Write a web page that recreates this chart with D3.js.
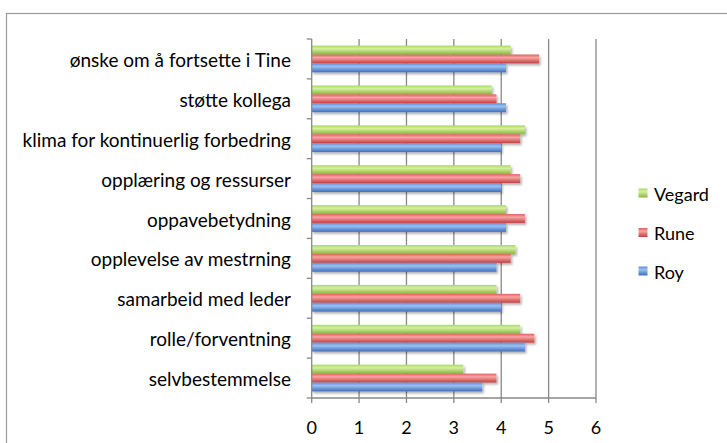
<!DOCTYPE html>
<html>
<head>
<meta charset="utf-8">
<script src="https://cdn.jsdelivr.net/npm/d3@7"></script>
<style>
  html, body { margin: 0; padding: 0; background: #fff; }
  svg { display: block; }
  text { font-family: Lato, "Open Sans", sans-serif; fill: #000; }
</style>
</head>
<body>
<script>
// Survey scores per theme, listed top to bottom
const categories = [
  "ønske om å fortsette i Tine",
  "støtte kollega",
  "klima for kontinuerlig forbedring",
  "opplæring og ressurser",
  "oppavebetydning",
  "opplevelse av mestrning ",
  "samarbeid med leder",
  "rolle/forventning",
  "selvbestemmelse"
];
const seriesNames = ["Vegard", "Rune", "Roy"];
const vegard = [4.2, 3.8, 4.5, 4.2, 4.1, 4.3, 3.9, 4.4, 3.2];
const rune   = [4.8, 3.9, 4.4, 4.4, 4.5, 4.2, 4.4, 4.7, 3.9];
const roy    = [4.1, 4.1, 4.0, 4.0, 4.1, 3.9, 4.0, 4.5, 3.6];
const xTicks = [0, 1, 2, 3, 4, 5, 6];

const values = { Vegard: vegard, Rune: rune, Roy: roy };
const colors = {
  Vegard: { light: "#d4f0a0", mid: "#a9d862", dark: "#86b63e" },
  Rune:   { light: "#f7a5a3", mid: "#e0605d", dark: "#c2403d" },
  Roy:    { light: "#9cc0f0", mid: "#5b8fdc", dark: "#3d6fc0" }
};

const W = 727, H = 443;
const svg = d3.select("body").append("svg").attr("width", W).attr("height", H);

// outer chart frame
svg.append("rect")
  .attr("x", 6.5).attr("y", 13.5).attr("width", 900).attr("height", 600)
  .attr("fill", "none").attr("stroke", "#9a9a9a").attr("stroke-width", 1.2);

const defs = svg.append("defs");
seriesNames.forEach(s => {
  const g = defs.append("linearGradient").attr("id", "grad-" + s)
    .attr("x1", 0).attr("y1", 0).attr("x2", 0).attr("y2", 1);
  g.append("stop").attr("offset", "0%").attr("stop-color", colors[s].mid);
  g.append("stop").attr("offset", "35%").attr("stop-color", colors[s].light);
  g.append("stop").attr("offset", "100%").attr("stop-color", colors[s].dark);
});
const shadow = defs.append("filter").attr("id", "shadow")
  .attr("x", "-5%").attr("y", "-30%").attr("width", "115%").attr("height", "180%");
shadow.append("feDropShadow").attr("dx", 1.5).attr("dy", 2).attr("stdDeviation", 1.2)
  .attr("flood-color", "#000").attr("flood-opacity", 0.3);

const plotLeft = 311.7, plotRight = 596, plotTop = 39, plotBottom = 398;

const x = d3.scaleLinear().domain([0, 6]).range([plotLeft, plotRight]);
const y = d3.scaleBand().domain(categories).range([plotTop, plotBottom]).paddingInner(0.33).paddingOuter(0.165);
const inner = d3.scaleBand().domain(seriesNames).range([0, y.bandwidth()]);

// vertical gridlines
svg.append("g").selectAll("line").data(xTicks.filter(t => t > 0)).join("line")
  .attr("x1", d => x(d)).attr("x2", d => x(d))
  .attr("y1", plotTop).attr("y2", plotBottom)
  .attr("stroke", "#888").attr("stroke-width", 1.3);

// bars
const groups = svg.append("g").selectAll("g").data(categories).join("g")
  .attr("transform", d => `translate(0,${y(d)})`);
groups.selectAll("rect")
  .data((c, i) => seriesNames.map(s => ({ s, v: values[s][i] })))
  .join("rect")
  .attr("x", x(0))
  .attr("y", d => inner(d.s))
  .attr("width", d => x(d.v) - x(0))
  .attr("height", inner.bandwidth())
  .attr("fill", d => `url(#grad-${d.s})`)
  .attr("filter", "url(#shadow)");

// category axis with ticks at band boundaries
const yAxisG = svg.append("g");
yAxisG.append("line").attr("x1", plotLeft).attr("x2", plotLeft).attr("y1", plotTop).attr("y2", plotBottom)
  .attr("stroke", "#888").attr("stroke-width", 1.3);
const step = (plotBottom - plotTop) / categories.length;
yAxisG.selectAll("line.tk").data(d3.range(categories.length + 1)).join("line")
  .attr("class", "tk")
  .attr("x1", plotLeft - 5).attr("x2", plotLeft)
  .attr("y1", i => plotTop + i * step).attr("y2", i => plotTop + i * step)
  .attr("stroke", "#888").attr("stroke-width", 1.3);
yAxisG.selectAll("text").data(categories).join("text")
  .attr("x", 291)
  .attr("y", d => y(d) + y.bandwidth() / 2 + 8)
  .attr("text-anchor", "end")
  .attr("font-size", 19)
  .text(d => d);

// value axis
const xAxisG = svg.append("g");
xAxisG.append("line").attr("x1", plotLeft).attr("x2", plotRight).attr("y1", plotBottom).attr("y2", plotBottom)
  .attr("stroke", "#888").attr("stroke-width", 1.3);
xAxisG.selectAll("line.tk").data(xTicks).join("line")
  .attr("class", "tk")
  .attr("x1", d => x(d)).attr("x2", d => x(d))
  .attr("y1", plotBottom).attr("y2", plotBottom + 5)
  .attr("stroke", "#888").attr("stroke-width", 1.3);
xAxisG.selectAll("text").data(xTicks).join("text")
  .attr("x", d => x(d))
  .attr("y", 434)
  .attr("text-anchor", "middle")
  .attr("font-size", 18)
  .text(d => d);

// legend
const legend = svg.append("g");
const legendY = { Vegard: 193, Rune: 232.5, Roy: 271 };
seriesNames.forEach(s => {
  legend.append("rect")
    .attr("x", 638.5).attr("y", legendY[s] - 4.5).attr("width", 9).attr("height", 9)
    .attr("fill", `url(#grad-${s})`);
  legend.append("text")
    .attr("x", 654).attr("y", legendY[s] + 7.5)
    .attr("font-size", 18)
    .text(s);
});
</script>
</body>
</html>
